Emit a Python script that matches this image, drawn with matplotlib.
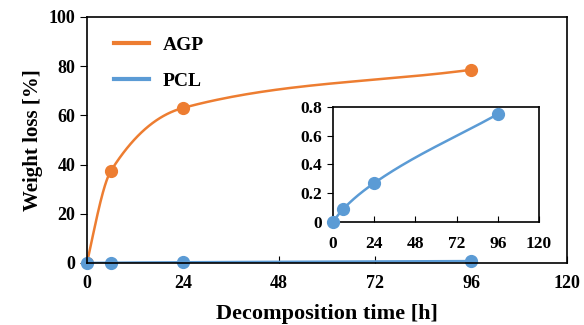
import matplotlib
matplotlib.use("Agg")
import matplotlib.pyplot as plt
import numpy as np

# data
time_h = [0, 6, 24, 96]
agp_loss = [0, 37.5, 63.0, 78.5]
pcl_loss = [0, 0.09, 0.27, 0.75]

x_ticks = [0, 24, 48, 72, 96, 120]
y_ticks = [0, 20, 40, 60, 80, 100]
inset_y_ticks = [0, 0.2, 0.4, 0.6, 0.8]
inset_y_labels = ["0", "0.2", "0.4", "0.6", "0.8"]

ORANGE = "#ED7D31"
BLUE = "#5B9BD5"

plt.rcParams["font.family"] = ["Liberation Serif", "DejaVu Serif"]
plt.rcParams["font.weight"] = "bold"


def smooth(xs, ys, n=60):
    # monotone cubic curve, only used to draw a smoothed line through the data
    x = np.asarray(xs, float)
    y = np.asarray(ys, float)
    h = np.diff(x)
    s = np.diff(y) / h
    d = np.zeros_like(x)
    for k in range(1, len(x) - 1):
        if s[k - 1] * s[k] <= 0:
            d[k] = 0
        else:
            w1 = 2 * h[k] + h[k - 1]
            w2 = h[k] + 2 * h[k - 1]
            d[k] = (w1 + w2) / (w1 / s[k - 1] + w2 / s[k])
    d0 = ((2 * h[0] + h[1]) * s[0] - h[0] * s[1]) / (h[0] + h[1])
    d[0] = d0 if d0 * s[0] > 0 else s[0]
    d[-1] = s[-1]
    outx, outy = [], []
    for k in range(len(x) - 1):
        t = np.linspace(0, 1, n)
        h00 = 2 * t**3 - 3 * t**2 + 1
        h10 = t**3 - 2 * t**2 + t
        h01 = -2 * t**3 + 3 * t**2
        h11 = t**3 - t**2
        outx.extend(x[k] + t * h[k])
        outy.extend(h00 * y[k] + h10 * h[k] * d[k] + h01 * y[k + 1] + h11 * h[k] * d[k + 1])
    return outx, outy


fig = plt.figure(figsize=(5.84, 3.25), dpi=100)
ax = fig.add_axes([0.149, 0.191, 0.822, 0.757])

sx, sy = smooth(time_h, agp_loss)
ax.plot(sx, sy, color=ORANGE, lw=1.8, label="AGP")
ax.plot(time_h, agp_loss, "o", color=ORANGE, ms=8.5)
sx, sy = smooth(time_h, pcl_loss)
ax.plot(sx, sy, color=BLUE, lw=1.8, label="PCL")
ax.plot(time_h, pcl_loss, "o", color=BLUE, ms=8.5, clip_on=False)

ax.set_xlim(0, 120)
ax.set_ylim(0, 100)
ax.set_xticks(x_ticks)
ax.set_yticks(y_ticks)
ax.tick_params(axis="x", direction="in", length=5, labelsize=13, pad=9)
ax.tick_params(axis="y", direction="out", length=5, labelsize=13)
for lab in ax.get_xticklabels() + ax.get_yticklabels():
    lab.set_fontweight("bold")
ax.set_xlabel("Decomposition time [h]", fontsize=16, fontweight="bold", labelpad=8)
ax.set_ylabel("Weight loss [%]", fontsize=15, fontweight="bold")
for s in ax.spines.values():
    s.set_linewidth(1.2)

leg = ax.legend(loc="upper left", bbox_to_anchor=(0.016, 1.0), frameon=False,
                fontsize=14, handlelength=1.8, borderaxespad=0.6,
                labelspacing=0.95, handletextpad=0.7)
for line in leg.get_lines():
    line.set_linewidth(3)
for t in leg.get_texts():
    t.set_fontweight("bold")

# inset with PCL only
ins = fig.add_axes([0.570, 0.317, 0.353, 0.354])
sx, sy = smooth(time_h, pcl_loss)
ins.plot(sx, sy, color=BLUE, lw=1.8)
ins.plot(time_h, pcl_loss, "o", color=BLUE, ms=8.5, clip_on=False, zorder=5)
ins.set_xlim(0, 120)
ins.set_ylim(0, 0.8)
ins.set_xticks(x_ticks)
ins.set_yticks(inset_y_ticks)
ins.set_yticklabels(inset_y_labels)
ins.tick_params(axis="x", direction="in", length=4, labelsize=12.5, pad=10)
ins.tick_params(axis="y", direction="out", length=4, labelsize=12.5)
for lab in ins.get_xticklabels() + ins.get_yticklabels():
    lab.set_fontweight("bold")
for s in ins.spines.values():
    s.set_linewidth(1.2)

fig.savefig("out.png", dpi=100)
